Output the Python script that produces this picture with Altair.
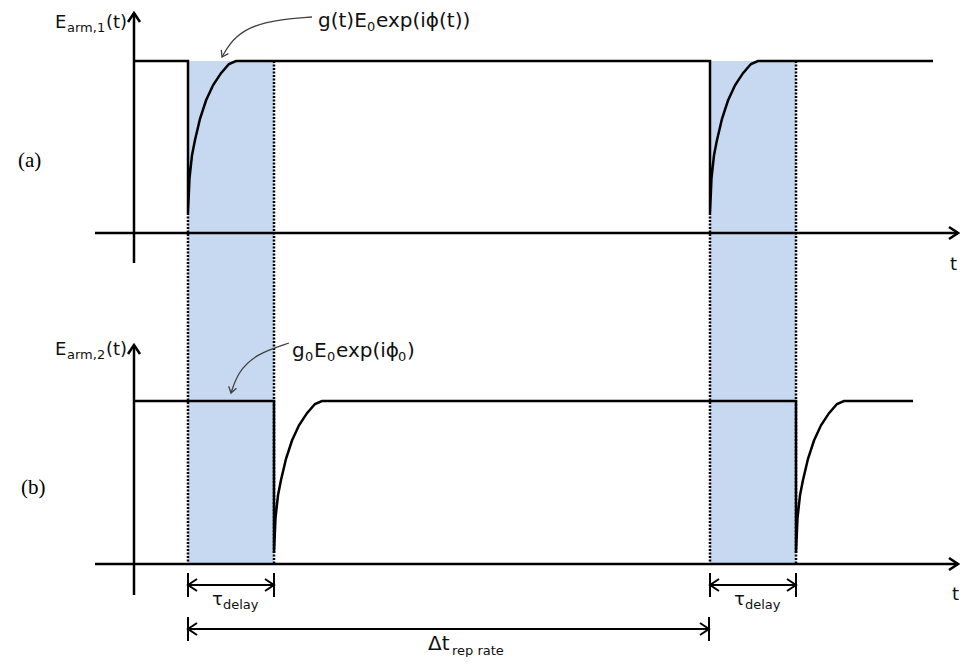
import altair as alt
import pandas as pd

# ---------------- values ----------------
# x = time (figure units), y = field level (figure units, growing downward)
T_ORIGIN = 134            # where the vertical E axes stand
T_AXIS_START = 95
T_AXIS_END = 958
PULSE_TIMES = [188, 710]  # pulse arrival times in arm 1
TAU_DELAY = 86            # delay between the arms
LINE_END = {"a": 933, "b": 913}

LEVELS = {
    "a": {"high": 61, "low": 213, "base": 233, "top": 13, "bottom": 263},
    "b": {"high": 401, "low": 553, "base": 564, "top": 345, "bottom": 595},
}

# recovery after a pulse: time since the pulse vs. recovered fraction
REC_DT = [0, 1.5, 4, 7, 12, 18, 25, 33, 41, 48]
REC_FRAC = [0, 0.23, 0.38, 0.48, 0.62, 0.74, 0.84, 0.92, 0.98, 1.0]

TAU_ROW = 585
REP_ROW = 629
BAR_HALF = 12

# annotation arrows (curved): control points
ANN_A_T = [312, 262, 234, 222]
ANN_A_Y = [17, 21, 36, 57]
ANN_B_T = [289, 256, 238, 231]
ANN_B_Y = [343, 354, 372, 393]

# text pieces: text, t, y, size
SANS_TEXT = [
    ("E", 55, 28, 18), ("arm,1", 67, 32, 13), ("(t)", 106, 28, 18),
    ("g(t)E", 318, 27, 20), ("0", 367, 31, 13), ("exp(iϕ(t))", 376, 27, 20),
    ("t", 950, 270, 18),
    ("E", 55, 355, 18), ("arm,2", 67, 359, 13), ("(t)", 106, 355, 18),
    ("g", 292, 357, 20), ("0", 305, 361, 13), ("E", 314, 357, 20), ("0", 327, 361, 13),
    ("exp(iϕ", 336, 357, 20), ("0", 398, 361, 13), (")", 407, 357, 20),
    ("t", 952, 600, 18),
    ("τ", 212, 605, 18), ("delay", 223, 609, 13),
    ("τ", 734, 605, 18), ("delay", 745, 609, 13),
    ("Δt", 428, 650, 20), ("rep rate", 452, 655, 13),
]
SERIF_TEXT = [("(a)", 18, 167, 21), ("(b)", 21, 494, 21)]

# ---------------- tables built from the values ----------------
def signal(panel, drops):
    L = LEVELS[panel]
    pts = [(T_ORIGIN, L["high"])]
    for s in drops:
        pts.append((s, L["high"]))
        for dt, f in zip(REC_DT, REC_FRAC):
            pts.append((s + dt, L["low"] - f * (L["low"] - L["high"])))
    pts.append((LINE_END[panel], L["high"]))
    return pts

rows = []
for i, (t, y) in enumerate(signal("a", PULSE_TIMES)):
    rows.append({"t": t, "y": y, "s": "a", "i": i})
for i, (t, y) in enumerate(signal("b", [p + TAU_DELAY for p in PULSE_TIMES])):
    rows.append({"t": t, "y": y, "s": "b", "i": i})
sig_df = pd.DataFrame(rows)

band_df = pd.DataFrame([
    {"t": p, "t2": p + TAU_DELAY, "y": LEVELS["a"]["high"], "y2": LEVELS["b"]["base"]}
    for p in PULSE_TIMES
])

dot_rows = []
for p in PULSE_TIMES:
    dot_rows.append({"t": p, "y": LEVELS["a"]["low"], "y2": LEVELS["b"]["base"]})
    dot_rows.append({"t": p + TAU_DELAY, "y": LEVELS["a"]["high"], "y2": LEVELS["b"]["base"]})
dot_df = pd.DataFrame(dot_rows)

axis_rows = []
for k in ("a", "b"):
    L = LEVELS[k]
    axis_rows.append({"t": T_ORIGIN, "t2": T_ORIGIN, "y": L["top"], "y2": L["bottom"]})
    axis_rows.append({"t": T_AXIS_START, "t2": T_AXIS_END, "y": L["base"], "y2": L["base"]})
axis_df = pd.DataFrame(axis_rows)

head_rows = []
for k in ("a", "b"):
    L = LEVELS[k]
    head_rows.append({"t": T_ORIGIN, "y": L["top"], "ang": 270})
    head_rows.append({"t": T_AXIS_END, "y": L["base"], "ang": 0})
axis_head_df = pd.DataFrame(head_rows)

dim_spans = [(p, p + TAU_DELAY, TAU_ROW) for p in PULSE_TIMES] + [(PULSE_TIMES[0], PULSE_TIMES[1] - 1, REP_ROW)]
dim_h = pd.DataFrame([{"t": a, "t2": b, "y": r, "y2": r} for a, b, r in dim_spans])
dim_v = pd.DataFrame([{"t": x, "t2": x, "y": r - BAR_HALF, "y2": r + BAR_HALF}
                      for a, b, r in dim_spans for x in (a, b)])
dim_heads = pd.DataFrame([{"t": a, "y": r, "ang": 180} for a, b, r in dim_spans] +
                         [{"t": b, "y": r, "ang": 0} for a, b, r in dim_spans])

ann_rows = []
for name, ts, ys in (("a", ANN_A_T, ANN_A_Y), ("b", ANN_B_T, ANN_B_Y)):
    for i, (t, y) in enumerate(zip(ts, ys)):
        ann_rows.append({"t": t, "y": y, "s": name, "i": i})
ann_df = pd.DataFrame(ann_rows)
ann_heads = pd.DataFrame([
    {"t": ANN_A_T[-1], "y": ANN_A_Y[-1], "ang": 118},
    {"t": ANN_B_T[-1], "y": ANN_B_Y[-1], "ang": 105},
])

sans_df = pd.DataFrame(SANS_TEXT, columns=["text", "t", "y", "size"])
serif_df = pd.DataFrame(SERIF_TEXT, columns=["text", "t", "y", "size"])

# ---------------- chart ----------------
XS = alt.Scale(domain=[8, 960], nice=False, zero=False)
YS = alt.Scale(domain=[8, 657], nice=False, zero=False, reverse=True)
X = alt.X("t:Q", scale=XS, axis=None)
Y = alt.Y("y:Q", scale=YS, axis=None)

CHEVRON = "M-1.5,-1L0,0L-1.5,1"

bands = alt.Chart(band_df).mark_rect(color="#c6d9f1").encode(x=X, x2="t2:Q", y=Y, y2="y2:Q")
dots = alt.Chart(dot_df).mark_rule(color="black", strokeWidth=2.5, strokeDash=[2, 1.5]).encode(x=X, y=Y, y2="y2:Q")
axes = alt.Chart(axis_df).mark_rule(color="black", strokeWidth=2.5).encode(x=X, x2="t2:Q", y=Y, y2="y2:Q")
axis_heads = alt.Chart(axis_head_df).mark_point(
    shape=CHEVRON, filled=False, color="black", strokeWidth=2.5, size=144, opacity=1
).encode(x=X, y=Y, angle=alt.Angle("ang:Q", scale=None))
signals = alt.Chart(sig_df).mark_line(color="black", strokeWidth=2.5, strokeJoin="miter").encode(
    x=X, y=Y, detail="s:N", order="i:Q")
dims_h = alt.Chart(dim_h).mark_rule(color="black", strokeWidth=2).encode(x=X, x2="t2:Q", y=Y, y2="y2:Q")
dims_v = alt.Chart(dim_v).mark_rule(color="black", strokeWidth=2).encode(x=X, x2="t2:Q", y=Y, y2="y2:Q")
dims_heads = alt.Chart(dim_heads).mark_point(
    shape=CHEVRON, filled=False, color="black", strokeWidth=2, size=144, opacity=1
).encode(x=X, y=Y, angle=alt.Angle("ang:Q", scale=None))
ann = alt.Chart(ann_df).mark_line(color="#404040", strokeWidth=1.3, interpolate="basis").encode(
    x=X, y=Y, detail="s:N", order="i:Q")
ann_h = alt.Chart(ann_heads).mark_point(
    shape=CHEVRON, filled=False, color="#404040", strokeWidth=1.3, size=64, opacity=1
).encode(x=X, y=Y, angle=alt.Angle("ang:Q", scale=None))
sans = alt.Chart(sans_df).mark_text(font="DejaVu Sans", align="left", baseline="alphabetic", color="#111111").encode(
    x=X, y=Y, text="text:N", size=alt.Size("size:Q", scale=None))
serif = alt.Chart(serif_df).mark_text(font="Liberation Serif", align="left", baseline="alphabetic", color="black").encode(
    x=X, y=Y, text="text:N", size=alt.Size("size:Q", scale=None))

chart = alt.layer(bands, dots, axes, axis_heads, signals, dims_h, dims_v, dims_heads, ann, ann_h, sans, serif).properties(
    width=952, height=649, padding=0, autosize="none", background="white"
).configure_view(stroke=None)

chart.save("out.html", embed_options={"renderer": "svg", "actions": False})
